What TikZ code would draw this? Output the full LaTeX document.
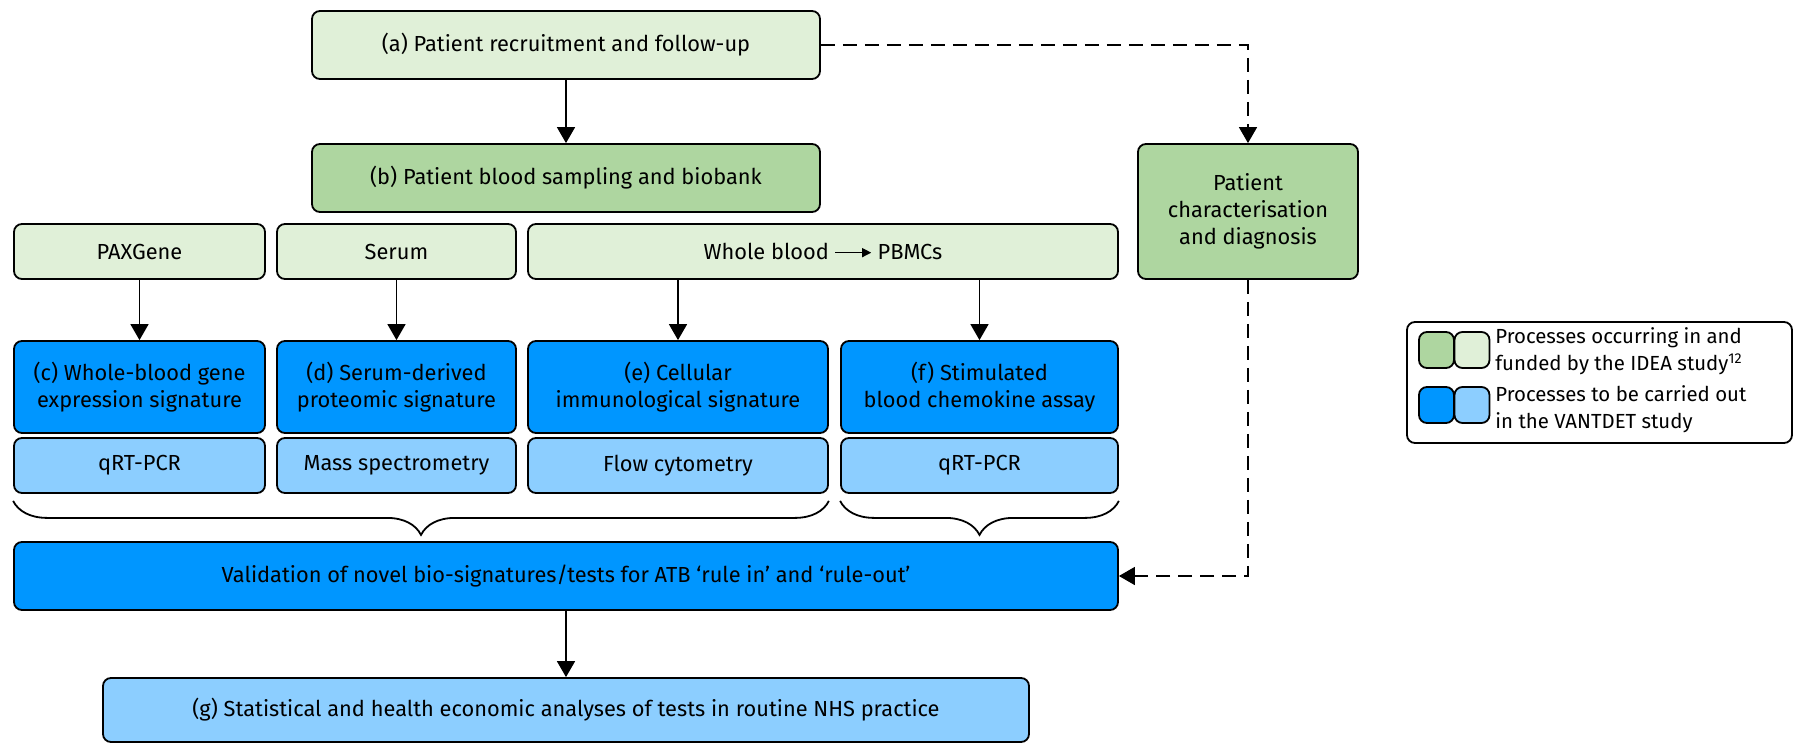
\documentclass[tikz,border=0pt]{standalone}
\usepackage{fontspec}
\setmainfont{Fira Sans}
\usetikzlibrary{arrows.meta,decorations.pathreplacing}
\definecolor{palegreen}{RGB}{224,240,216}
\definecolor{midgreen}{RGB}{174,214,160}
\definecolor{deepblue}{RGB}{0,150,255}
\definecolor{paleblue}{RGB}{140,206,255}
\newcommand{\feedarrow}{\tikz[baseline=-0.6ex]\draw[line width=0.6pt,-{Triangle[length=4.5pt,width=4.5pt]}] (0,0) -- (18pt,0);}
\tikzset{
    flow-box/.style = {draw=black, line width=0.9pt, rectangle, rounded corners=4pt, align=center, inner sep=2pt, font=\fontsize{10.9}{13.5}\selectfont},
    light-green-box/.style = {flow-box, fill=palegreen},
    green-box/.style = {flow-box, fill=midgreen},
    blue-box/.style = {flow-box, fill=deepblue},
    light-blue-box/.style = {flow-box, fill=paleblue},
    key-swatch/.style = {draw=black, line width=0.9pt, rounded corners=4pt, minimum width=17.5pt, minimum height=18pt, inner sep=0pt},
    key-text/.style = {align=left, inner sep=0pt, font=\fontsize{10.2}{13.5}\selectfont},
    flow-arrow/.style = {line width=0.8pt, -{Triangle[length=8pt,width=9pt]}},
    dash-arrow/.style = {flow-arrow, dash pattern=on 7pt off 4pt},
    group-brace/.style = {line width=0.9pt, decorate, decoration={brace, mirror, amplitude=17pt}},
}

\begin{document}
\begin{tikzpicture}[x=0.5pt, y=-0.5pt]
\useasboundingbox (0,0) rectangle (1796,744);

\node [light-green-box, minimum width=254pt, minimum height=34pt] (recruit) at (566,45) {(a) Patient recruitment and follow-up};
\node [green-box, minimum width=254pt, minimum height=34pt] (biobank) at (566,178) {(b) Patient blood sampling and biobank};
\node [green-box, minimum width=110pt, minimum height=67.5pt] (diagnosis) at (1248,211.5) {Patient\\characterisation\\and diagnosis};

\node [light-green-box, minimum width=125.5pt, minimum height=27.5pt] (paxgene) at (139.5,251.5) {PAXGene};
\node [light-green-box, minimum width=119.5pt, minimum height=27.5pt] (serum) at (396.5,251.5) {Serum};
\node [light-green-box, minimum width=295pt, minimum height=27.5pt] (wholeblood) at (823,251.5) {Whole blood \feedarrow{} PBMCs};

\node [blue-box, minimum width=125.5pt, minimum height=46pt] (genesig) at (139.5,387) {(c) Whole-blood gene\\expression signature};
\node [blue-box, minimum width=119.5pt, minimum height=46pt] (protsig) at (396.5,387) {(d) Serum-derived\\proteomic signature};
\node [blue-box, minimum width=150pt, minimum height=46pt] (cellsig) at (678,387) {(e) Cellular\\immunological signature};
\node [blue-box, minimum width=138.5pt, minimum height=46pt] (chemsig) at (979.5,387) {(f) Stimulated\\blood chemokine assay};

\node [light-blue-box, minimum width=125.5pt, minimum height=27.5pt] (genetech) at (139.5,465.5) {qRT-PCR};
\node [light-blue-box, minimum width=119.5pt, minimum height=27.5pt] (prottech) at (396.5,465.5) {Mass spectrometry};
\node [light-blue-box, minimum width=150pt, minimum height=27.5pt] (celltech) at (678,465.5) {Flow cytometry};
\node [light-blue-box, minimum width=138.5pt, minimum height=27.5pt] (chemtech) at (979.5,465.5) {qRT-PCR};

\node [blue-box, minimum width=552pt, minimum height=34pt] (validate) at (566,576) {Validation of novel bio-signatures/tests for ATB ‘rule in’ and ‘rule-out’};
\node [light-blue-box, minimum width=463pt, minimum height=32pt] (analyses) at (566,710) {(g) Statistical and health economic analyses of tests in routine NHS practice};

\draw [flow-arrow] (recruit) -- (biobank);
\draw [flow-arrow] (paxgene) -- (genesig);
\draw [flow-arrow] (serum) -- (protsig);
\draw [flow-arrow] (cellsig |- wholeblood.south) -- (cellsig);
\draw [flow-arrow] (chemsig |- wholeblood.south) -- (chemsig);
\draw [flow-arrow] (validate) -- (analyses);
\draw [dash-arrow] (recruit.east) -| (diagnosis.north);
\draw [dash-arrow] (diagnosis.south) |- (validate.east);

\draw [group-brace] ([yshift=-3.5pt]genetech.south west) -- ([yshift=-3.5pt]celltech.south east);
\draw [group-brace] ([yshift=-3.5pt]chemtech.south west) -- ([yshift=-3.5pt]chemtech.south east);

\node [draw=black, line width=0.9pt, rounded corners=4pt, minimum width=192.5pt, minimum height=60.5pt] (legend) at (1599.5,382.5) {};
\node [key-swatch, fill=midgreen] (keygreen) at (1436.5,350) {};
\node [key-swatch, fill=palegreen] (keypalegreen) at (1472,350) {};
\node [key-swatch, fill=deepblue] (keyblue) at (1436.5,405) {};
\node [key-swatch, fill=paleblue] (keypaleblue) at (1472,405) {};
\node [key-text, anchor=west] (keyidea) at (1495,351) {Processes occurring in and\\funded by the IDEA study\textsuperscript{12}};
\node [key-text, anchor=west] (keyvantdet) at (1495,409) {Processes to be carried out\\in the VANTDET study};
\end{tikzpicture}
\end{document}
